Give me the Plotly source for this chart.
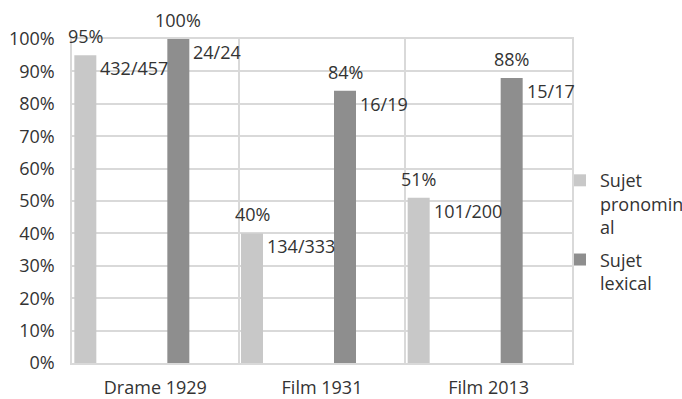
import plotly.graph_objects as go

categories = ["Drame 1929", "Film 1931", "Film 2013"]
pronominal = [0.95, 0.40, 0.51]
lexical = [1.00, 0.84, 0.88]
pronominal_frac = ["432/457", "134/333", "101/200"]
lexical_frac = ["24/24", "16/19", "15/17"]
series_names = ["Sujet<br>pronomin<br>al", "Sujet<br>lexical"]

FONT = "Open Sans"
TXT = "#333333"
LIGHT = "#c8c8c8"
DARK = "#8e8e8e"
GRID = "#d9d9d9"

L, R, T, B = 72, 110, 39, 36
W, H = 682, 399
plot_w = W - L - R
px_per_cat = plot_w / len(categories)

bar_w = 22 / px_per_cat
light_center_px = -70
dark_center_px = 23

fig = go.Figure()
fig.add_trace(go.Bar(
    x=categories, y=pronominal, name=series_names[0], legendgroup="a",
    marker=dict(color=LIGHT, line=dict(width=0)),
    width=bar_w, offset=(light_center_px - 11) / px_per_cat,
))
fig.add_trace(go.Bar(
    x=categories, y=lexical, name=series_names[1], legendgroup="b",
    marker=dict(color=DARK, line=dict(width=0)),
    width=bar_w, offset=(dark_center_px - 11) / px_per_cat,
))

annotations = []
for vals, fracs, cpx in [(pronominal, pronominal_frac, light_center_px),
                         (lexical, lexical_frac, dark_center_px)]:
    for cat, v, f in zip(categories, vals, fracs):
        annotations.append(dict(
            x=cat, y=v, xref="x", yref="y", text=f"{round(v*100)}%",
            showarrow=False, xanchor="center", yanchor="middle",
            xshift=cpx, yshift=19, font=dict(family=FONT, size=18, color=TXT)))
        annotations.append(dict(
            x=cat, y=v, xref="x", yref="y", text=f,
            showarrow=False, xanchor="left", yanchor="middle",
            xshift=cpx + 11 + 2, yshift=-13, font=dict(family=FONT, size=18, color=TXT)))

fig.update_layout(
    width=W, height=H,
    margin=dict(l=L, r=R, t=T, b=B, pad=0, autoexpand=False),
    paper_bgcolor="white", plot_bgcolor="white",
    barmode="overlay",
    font=dict(family=FONT, size=18, color=TXT),
    showlegend=True,
    legend=dict(
        x=0.976, xanchor="left", y=0.62, yanchor="top",
        bgcolor="rgba(0,0,0,0)", valign="top", tracegroupgap=6,
        font=dict(family=FONT, size=18, color=TXT),
        traceorder="grouped",
    ),
    annotations=annotations,
    xaxis=dict(
        type="category", range=[-0.5, 2.5], tickson="boundaries", showgrid=True,
        gridcolor=GRID, gridwidth=1.5,
        showline=True, linecolor=GRID, linewidth=1.5, mirror=True,
        ticks="", tickfont=dict(family=FONT, size=18, color=TXT),
        ticklabelstandoff=8, automargin=False, fixedrange=True,
    ),
    yaxis=dict(
        range=[0, 1], dtick=0.1, tickformat=".0%", showgrid=True, gridcolor=GRID, gridwidth=1.5,
        showline=True, linecolor=GRID, linewidth=1.5, mirror=True, zeroline=False,
        ticks="", tickfont=dict(family=FONT, size=18, color=TXT),
        ticklabelstandoff=12, automargin=False, fixedrange=True,
    ),
)

fig.write_html("out.html")
